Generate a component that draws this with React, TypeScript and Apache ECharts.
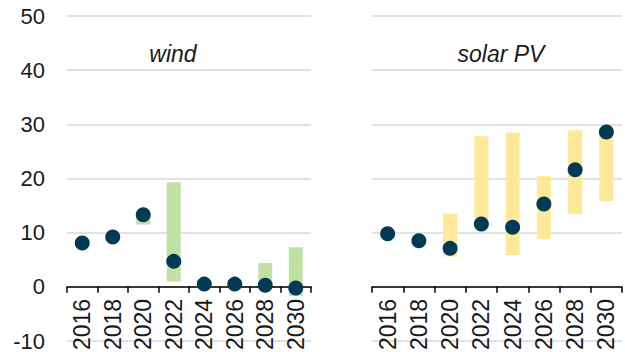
import React, { useEffect, useRef } from "react";
import * as echarts from "echarts";

// Categories (years)
const years = ["2016", "2018", "2020", "2022", "2024", "2026", "2028", "2030"];

// Wind: actual values and projection range (low/high)
const windActual = [8.1, 9.2, 13.3, 4.7, 0.5, 0.5, 0.3, -0.2];
const windLow: (number | null)[] = [null, null, 11.5, 1.0, null, null, 0, -1.7];
const windHigh: (number | null)[] = [null, null, 13.2, 19.3, null, null, 4.4, 7.3];

// Solar PV: actual values and projection range (low/high)
const solarActual = [9.8, 8.5, 7.1, 11.6, 11.0, 15.3, 21.6, 28.6];
const solarLow: (number | null)[] = [null, null, 5.6, 11.5, 5.9, 8.8, 13.4, 15.8];
const solarHigh: (number | null)[] = [null, null, 13.5, 27.8, 28.5, 20.4, 28.9, 28.5];

// Y axis range
const yMin = -10;
const yMax = 50;
const yStep = 10;

const FONT = "'Liberation Sans', Arial, sans-serif";
const DOT = "#003A55";
const GREEN = "#C1E1A3";
const YELLOW = "#FFE999";

const GRID_TOP = 16;
const GRID_HEIGHT = 325;
// distance from the grid bottom (y = yMin) up to the y = 0 line
const ZERO_OFFSET = (GRID_HEIGHT * (0 - yMin)) / (yMax - yMin);

function rangeData(low: (number | null)[], high: (number | null)[]) {
  const out: number[][] = [];
  low.forEach((l, i) => {
    const h = high[i];
    if (l != null && h != null) out.push([i, l, h]);
  });
  return out;
}

function rangeSeries(idx: number, low: (number | null)[], high: (number | null)[], color: string) {
  return {
    type: "custom",
    xAxisIndex: idx,
    yAxisIndex: idx,
    data: rangeData(low, high),
    encode: { x: 0, y: [1, 2] },
    z: 2,
    renderItem: (params: any, api: any) => {
      const x = api.value(0);
      const p1 = api.coord([x, api.value(1)]);
      const p2 = api.coord([x, api.value(2)]);
      const w = 14;
      return {
        type: "rect",
        shape: { x: p1[0] - w / 2, y: p2[1], width: w, height: p1[1] - p2[1] },
        style: { fill: color },
      };
    },
  };
}

function dotSeries(idx: number, values: number[]) {
  return {
    type: "scatter",
    xAxisIndex: idx,
    yAxisIndex: idx,
    data: values,
    symbolSize: 15,
    itemStyle: { color: DOT, opacity: 1 },
    z: 5,
  };
}

function xAxis(idx: number) {
  return {
    type: "category",
    gridIndex: idx,
    data: years,
    boundaryGap: true,
    position: "bottom",
    offset: -ZERO_OFFSET,
    axisLine: { onZero: false, lineStyle: { color: "#000", width: 1.5 } },
    axisTick: { show: true, length: 6, lineStyle: { color: "#000", width: 1.5 } },
    axisLabel: {
      rotate: 90,
      fontSize: 23,
      color: "#1a1a1a",
      fontFamily: FONT,
      margin: 12,
      interval: 0,
    },
  };
}

function yAxis(idx: number, showLabels: boolean) {
  return {
    type: "value",
    gridIndex: idx,
    min: yMin,
    max: yMax,
    interval: yStep,
    axisLine: { show: false },
    axisTick: { show: false },
    axisLabel: {
      show: showLabels,
      fontSize: 22,
      color: "#1a1a1a",
      fontFamily: FONT,
      margin: 22,
    },
    splitLine: { show: true, lineStyle: { color: "#D9D9D9", width: 1.5 } },
  };
}

const titleStyle = {
  fontSize: 23,
  fontStyle: "italic",
  fontWeight: "normal",
  color: "#1a1a1a",
  fontFamily: FONT,
};

export default function App() {
  const ref = useRef<HTMLDivElement>(null);

  useEffect(() => {
    if (!ref.current) return;
    const chart = echarts.init(ref.current, null, { renderer: "svg" });
    chart.setOption({
      animation: false,
      backgroundColor: "#fff",
      grid: [
        { left: 67, top: GRID_TOP, width: 244, height: GRID_HEIGHT, outerBoundsMode: "none", containLabel: false },
        { left: 372, top: GRID_TOP, width: 250, height: GRID_HEIGHT, outerBoundsMode: "none", containLabel: false },
      ],
      title: [
        { text: "wind", left: 168, top: 37, textAlign: "center", textStyle: titleStyle },
        { text: "solar PV", left: 496, top: 37, textAlign: "center", textStyle: titleStyle },
      ],
      xAxis: [xAxis(0), xAxis(1)],
      yAxis: [yAxis(0, true), yAxis(1, false)],
      series: [
        rangeSeries(0, windLow, windHigh, GREEN),
        dotSeries(0, windActual),
        rangeSeries(1, solarLow, solarHigh, YELLOW),
        dotSeries(1, solarActual),
      ],
    });
    return () => chart.dispose();
  }, []);

  return (
    <div
      ref={ref}
      style={{ position: "fixed", left: 0, top: 0, width: 625, height: 352 }}
    />
  );
}
